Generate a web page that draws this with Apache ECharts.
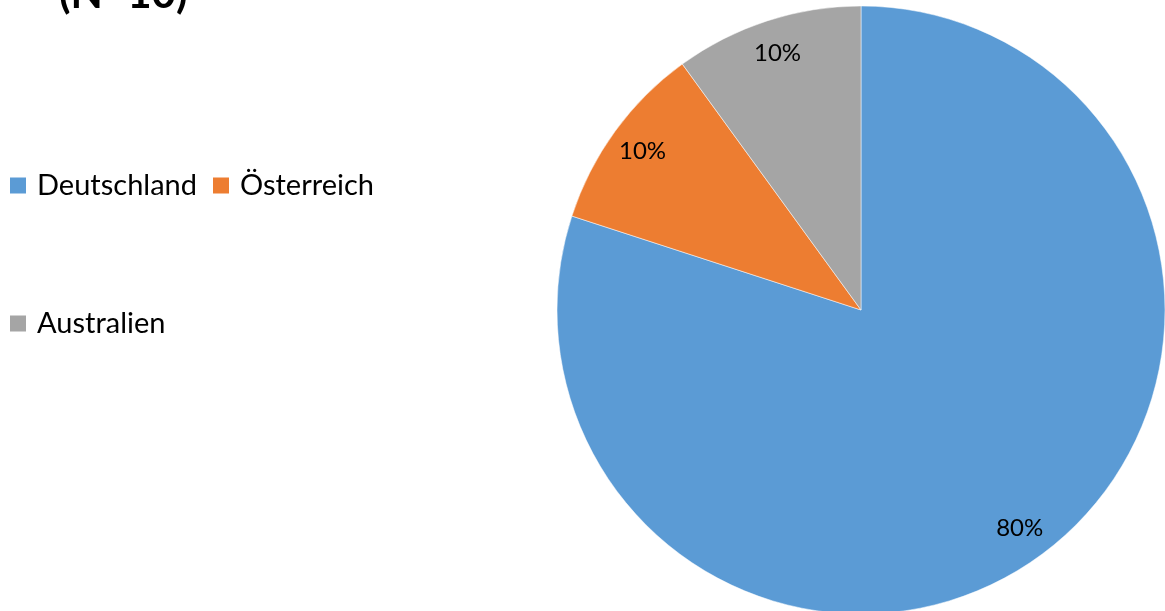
<!DOCTYPE html>
<html>
<head>
<meta charset="utf-8">
<script src="https://cdn.jsdelivr.net/npm/echarts@6/dist/echarts.min.js"></script>
<style>
html,body{margin:0;padding:0;background:#fff;}
#chart{width:1165px;height:611px;}
</style>
</head>
<body>
<div id="chart"></div>
<script>
const categories = ['Deutschland', 'Österreich', 'Australien'];
const values = [80, 10, 10];
const colors = ['#5B9BD5', '#ED7D31', '#A5A5A5'];
const titleText = '(N=10)';

const chart = echarts.init(document.getElementById('chart'));
const mainData = categories.map((c, i) => ({ name: c, value: values[i], itemStyle: { color: colors[i] } }));
const labelData = categories.map((c, i) => ({ name: c, value: values[i] }));

const legendText = { fontFamily: 'Lato', fontSize: 29, color: '#000', padding: [0, 0, 0, 6] };
const legendItems = categories.map((c, i) => ({ name: c, itemStyle: { color: colors[i], borderWidth: 0 } }));

chart.setOption({
  animation: false,
  title: {
    text: titleText,
    left: 54,
    top: -32,
    textStyle: { fontFamily: 'Lato', fontWeight: 'bold', fontSize: 42, color: '#000' }
  },
  legend: [
    {
      data: legendItems.slice(0, 2),
      left: 5,
      top: 166,
      orient: 'horizontal',
      icon: 'rect',
      itemWidth: 16,
      itemHeight: 16,
      itemGap: 16,
      textStyle: legendText,
      selectedMode: false
    },
    {
      data: legendItems.slice(2),
      left: 5,
      top: 304,
      icon: 'rect',
      itemWidth: 16,
      itemHeight: 16,
      textStyle: legendText,
      selectedMode: false
    }
  ],
  series: [
    {
      type: 'pie',
      center: [861, 310],
      radius: [0, 304],
      startAngle: 90,
      clockwise: true,
      label: { show: false },
      labelLine: { show: false },
      itemStyle: { borderColor: '#fff', borderWidth: 0.5 },
      emphasis: { disabled: true },
      data: mainData
    },
    {
      type: 'pie',
      center: [861, 310],
      radius: [230, 304],
      startAngle: 90,
      clockwise: true,
      silent: true,
      legendHoverLink: false,
      itemStyle: { color: 'rgba(0,0,0,0)', borderWidth: 0 },
      label: {
        show: true,
        position: 'inside',
        formatter: p => Math.round(p.percent) + '%',
        fontFamily: 'Lato',
        fontSize: 24,
        color: '#000'
      },
      labelLine: { show: false },
      emphasis: { disabled: true },
      data: labelData
    }
  ]
});
</script>
</body>
</html>
